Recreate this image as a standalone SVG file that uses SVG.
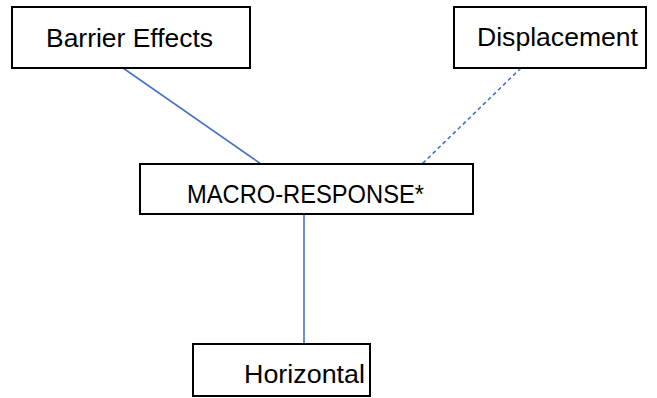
<svg xmlns="http://www.w3.org/2000/svg" width="657" height="398" viewBox="0 0 657 398">
<style>
.box{fill:#fff;stroke:#000;stroke-width:2}
.lbl{font-family:"Liberation Sans",Arial,sans-serif;font-size:26px;fill:#000;text-anchor:middle}
.ln{stroke:#4472C4;stroke-width:1.6;fill:none}
.dash{stroke-dasharray:4 3}
</style>
<rect width="657" height="398" fill="#fff"/>
<g id="connectors">
<line class="ln" x1="123" y1="68" x2="261" y2="164"/>
<line class="ln dash" x1="521" y1="68" x2="422" y2="164"/>
<line class="ln" x1="304" y1="214" x2="304" y2="344"/>
</g>
<g id="barrier">
<rect class="box" x="12" y="7" width="238" height="61"/>
<text class="lbl" x="129.5" y="47" textLength="167" lengthAdjust="spacingAndGlyphs">Barrier Effects</text>
</g>
<g id="displacement">
<rect class="box" x="454" y="7" width="192" height="61"/>
<text class="lbl" x="557.5" y="46" textLength="161" lengthAdjust="spacingAndGlyphs">Displacement</text>
</g>
<g id="macro">
<rect class="box" x="140" y="164" width="333" height="50"/>
<text class="lbl" x="305.5" y="203" textLength="237" lengthAdjust="spacingAndGlyphs">MACRO-RESPONSE*</text>
</g>
<g id="horizontal">
<rect class="box" x="193" y="344" width="177" height="52"/>
<text class="lbl" x="304.5" y="383" textLength="121" lengthAdjust="spacingAndGlyphs">Horizontal</text>
</g>
</svg>
